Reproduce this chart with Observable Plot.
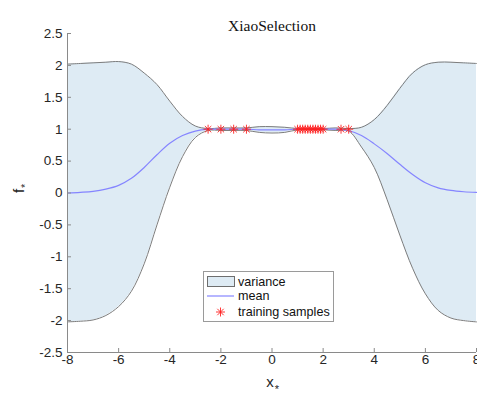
<!DOCTYPE html>
<html><head><meta charset="utf-8">
<script src="https://cdn.jsdelivr.net/npm/d3@7"></script>
<script src="https://cdn.jsdelivr.net/npm/@observablehq/plot@0.6"></script>
<style>
body{margin:0;background:#fff;}
#wrap{position:relative;width:477px;height:393px;overflow:hidden;}
#legend{position:absolute;left:203px;top:271px;}
</style></head><body><div id="wrap"></div>
<script>
// ---- data ----
const xs     = [-8,-7.5,-7,-6.5,-6,-5.5,-5,-4.5,-4,-3.5,-3,-2.5,-2,-1.5,-1,-0.5,0,0.5,1,1.5,2,2.5,3,3.5,4,4.5,5,5.5,6,6.5,7,7.5,8];
const meanF  = [0.00,0.01,0.025,0.06,0.12,0.23,0.40,0.60,0.78,0.90,0.97,1.00,1.00,1.00,1.00,0.99,0.99,0.99,1.00,1.00,1.00,1.00,0.98,0.90,0.77,0.62,0.45,0.29,0.16,0.08,0.04,0.02,0.01];
const upperF = [2.02,2.03,2.04,2.05,2.06,2.02,1.88,1.70,1.44,1.20,1.05,1.01,1.02,1.02,1.02,1.04,1.04,1.03,1.01,1.01,1.01,1.02,1.01,1.03,1.15,1.37,1.64,1.88,2.01,2.05,2.05,2.04,2.03];
const lowerF = [-2.02,-2.01,-1.99,-1.92,-1.78,-1.54,-1.11,-0.50,0.09,0.57,0.87,0.98,0.98,0.98,0.98,0.95,0.94,0.95,0.99,0.99,0.99,0.98,0.97,0.72,0.40,-0.10,-0.66,-1.18,-1.58,-1.84,-1.96,-2.00,-2.02];
const trainX = [-2.5,-2,-1.5,-1,1.0,1.1,1.2,1.3,1.4,1.5,1.6,1.7,1.8,1.9,2.0,2.7,3.0];
const trainY = [1,1,1,1,1,1,1,1,1,1,1,1,1,1,1,1,1];
const xDomain = [-8, 8];
const yDomain = [-2.5, 2.5];
const xTicks = [-8,-6,-4,-2,0,2,4,6,8];
const yTicks = [-2.5,-2,-1.5,-1,-0.5,0,0.5,1,1.5,2,2.5];
const titleText = "XiaoSelection";
const legendLabels = ["variance", "mean", "training samples"];

const band = xs.map((x,i)=>({x, mu: meanF[i], hi: upperF[i], lo: lowerF[i]}));
const train = trainX.map((x,i)=>({x, y: trainY[i]}));

const fillC = "#deebf4", edgeC = "#7d7d7d", meanC = "#8585ff", starC = "#ff2020";
const curve = "catmull-rom";
const sans = "'Liberation Sans', Arial, Helvetica, sans-serif";

const plot = Plot.plot({
  width: 477, height: 393,
  marginLeft: 67, marginRight: 1, marginTop: 33, marginBottom: 41,
  x: {domain: xDomain},
  y: {domain: yDomain},
  style: {fontFamily: sans, fontSize: "13.5px", background: "#fff", overflow: "visible"},
  marks: [
    Plot.areaY(band, {x: "x", y1: "lo", y2: "hi", fill: fillC, curve}),
    Plot.line(band, {x: "x", y: "hi", stroke: edgeC, strokeWidth: 1, curve}),
    Plot.line(band, {x: "x", y: "lo", stroke: edgeC, strokeWidth: 1, curve}),
    Plot.line(band, {x: "x", y: "mu", stroke: meanC, strokeWidth: 1.2, curve}),
    Plot.dot(train, {x: "x", y: "y", symbol: "plus", r: 3.0, stroke: starC, strokeWidth: 0.9}),
    Plot.dot(train, {x: "x", y: "y", symbol: "times", r: 3.0, stroke: starC, strokeWidth: 0.9}),
    Plot.ruleX([xDomain[0]], {stroke: "#8a8a8a"}),
    Plot.ruleY([yDomain[0]], {stroke: "#8a8a8a"}),
    Plot.tickX(xTicks, {x: d => d, stroke: "#8a8a8a", insetTop: 315}),
    Plot.tickY(yTicks, {y: d => d, stroke: "#8a8a8a", insetRight: 405}),
    Plot.axisX(xTicks, {tickSize: 0, tickPadding: 2, tickFormat: d => String(d), label: null, fill: "#262626"}),
    Plot.axisY(yTicks, {tickSize: 0, tickPadding: 5, tickFormat: d => String(d), label: null, fill: "#262626"}),
    Plot.text([titleText], {frameAnchor: "top", dy: -14, fontFamily: "'Liberation Serif', 'DejaVu Serif', serif", fontSize: 15.5, fill: "#111"}),
    Plot.text(["x"], {frameAnchor: "bottom", dx: -2, dy: 34, fontSize: 15, fill: "#262626"}),
    Plot.text(["*"], {frameAnchor: "bottom", dx: 5, dy: 40, fontSize: 11, fill: "#262626"}),
    Plot.text(["f"], {frameAnchor: "left", dx: -48, dy: 0, rotate: -90, fontSize: 15, fill: "#262626"}),
    Plot.text(["*"], {frameAnchor: "left", dx: -42, dy: -5, rotate: -90, fontSize: 11, fill: "#262626"})
  ]
});
const wrap = document.getElementById("wrap");
wrap.appendChild(plot);

// legend
const lg = d3.select(wrap).append("svg").attr("id", "legend").attr("width", 132).attr("height", 51);
lg.append("rect").attr("x", 0.5).attr("y", 0.5).attr("width", 130).attr("height", 50).attr("fill", "#fff").attr("stroke", "#9a9a9a");
lg.append("rect").attr("x", 4.5).attr("y", 5.5).attr("width", 27).attr("height", 10).attr("fill", fillC).attr("stroke", "#6e6e6e");
lg.append("line").attr("x1", 4).attr("x2", 31).attr("y1", 25).attr("y2", 25).attr("stroke", meanC).attr("stroke-width", 1.2);
const sy = 41, sx = 17.5, sr = 3.0;
lg.append("path").attr("d", d3.symbol(d3.symbolPlus, Math.PI*sr*sr)()).attr("transform", `translate(${sx},${sy})`).attr("fill", "none").attr("stroke", starC).attr("stroke-width", 0.9);
lg.append("path").attr("d", d3.symbol(d3.symbolTimes, Math.PI*sr*sr)()).attr("transform", `translate(${sx},${sy})`).attr("fill", "none").attr("stroke", starC).attr("stroke-width", 0.9);
[10.5, 25, 41].forEach((y, i) => {
  lg.append("text").attr("x", 35).attr("y", y).attr("dy", "0.35em").attr("font-family", sans).attr("font-size", 12.6).attr("fill", "#111").text(legendLabels[i]);
});
</script></body></html>
